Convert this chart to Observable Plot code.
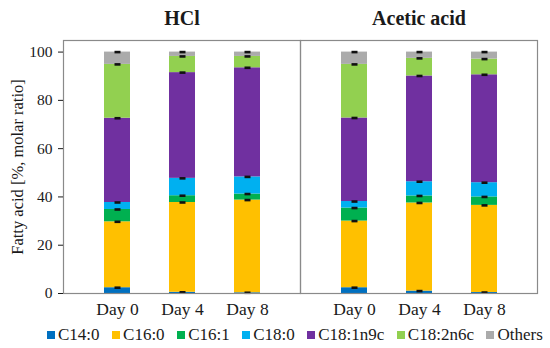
<!DOCTYPE html>
<html>
<head>
<meta charset="utf-8">
<script src="https://cdn.jsdelivr.net/npm/d3@7"></script>
<script src="https://cdn.jsdelivr.net/npm/@observablehq/plot@0.6"></script>
<style>
  html, body { margin: 0; padding: 0; background: #fff; }
  #chart { width: 550px; height: 348px; font-family: "Times New Roman", "Liberation Serif", Times, serif; color: #1a1a1a; }
  #chart svg text { font-family: "Times New Roman", "Liberation Serif", Times, serif; }
  .legend { display: flex; align-items: center; padding-left: 47px; height: 26px; font-size: 17px; white-space: nowrap; }
  .legend .item { display: flex; align-items: center; margin-right: 12.5px; }
  .legend .sw { width: 8px; height: 8px; margin-right: 3px; display: inline-block; }
</style>
</head>
<body>
<div id="chart"></div>
<script>
const days = ["Day 0", "Day 4", "Day 8"];
const acids = ["HCl", "Acetic acid"];
const fattyAcids = ["C14:0", "C16:0", "C16:1", "C18:0", "C18:1n9c", "C18:2n6c", "Others"];
const colors = ["#0070C0", "#FFC000", "#00B050", "#00B0F0", "#7030A0", "#92D050", "#ABABAB"];

// values per fatty acid, per day (Day 0, Day 4, Day 8), % molar ratio
const hclValues = [
  [2.4, 0.5, 0.3],
  [27.3, 37.2, 38.4],
  [5.1, 2.8, 2.5],
  [2.9, 7.2, 7.1],
  [34.9, 43.8, 45.2],
  [22.3, 6.7, 4.7],
  [5.1, 1.8, 1.8]
];
const aceticValues = [
  [2.4, 1.0, 0.4],
  [27.6, 36.5, 36.1],
  [5.4, 2.9, 3.5],
  [2.7, 5.9, 5.9],
  [34.6, 43.8, 44.7],
  [22.2, 7.3, 6.5],
  [5.1, 2.6, 2.9]
];
const yTicks = [0, 20, 40, 60, 80, 100];

const table = [];
[hclValues, aceticValues].forEach((vals, ai) => {
  fattyAcids.forEach((fa, fi) => {
    days.forEach((day, di) => {
      table.push({acid: acids[ai], fa, day, value: vals[fi][di]});
    });
  });
});

const dash = {draw(ctx) { ctx.rect(-3, -1.3, 6, 2.6); }};

const plot = Plot.plot({
  width: 550,
  height: 322,
  marginLeft: 63,
  marginRight: 13,
  marginTop: 40,
  marginBottom: 29,
  style: {fontSize: "15px", color: "#1a1a1a", background: "#fff"},
  fx: {domain: acids, padding: 0, label: null},
  x: {domain: days, padding: 0.6, label: null},
  y: {domain: [0, 104.8], label: null},
  color: {domain: fattyAcids, range: colors},
  marks: [
    Plot.barY(table, {fx: "acid", x: "day", y: "value", fill: "fa", z: "fa"}),
    Plot.dot(table, Plot.stackY2({fx: "acid", x: "day", y: "value", z: "fa", symbol: dash, fill: "#111", stroke: null})),
    Plot.frame({stroke: "#8a8a8a", strokeWidth: 1.2}),
    Plot.axisY({ticks: yTicks, tickSize: 5, tickPadding: 6, fontSize: 15.5,
      label: "Fatty acid [%, molar ratio]", labelAnchor: "center", labelArrow: "none", labelOffset: 52}),
    Plot.axisX({tickSize: 0, tickPadding: 9, fontSize: 17.5, label: null}),
    Plot.axisFx({anchor: "top", tickSize: 0, tickPadding: 16, fontSize: 20, fontWeight: "bold", label: null})
  ]
});

const root = document.getElementById("chart");
root.appendChild(plot);
plot.querySelectorAll("[aria-label='y-axis label'] text").forEach(t => t.setAttribute("font-size", "16.5"));

const legend = document.createElement("div");
legend.className = "legend";
fattyAcids.forEach((fa, i) => {
  const item = document.createElement("span");
  item.className = "item";
  const sw = document.createElement("span");
  sw.className = "sw";
  sw.style.background = colors[i];
  item.appendChild(sw);
  item.appendChild(document.createTextNode(fa));
  legend.appendChild(item);
});
root.appendChild(legend);
</script>
</body>
</html>
